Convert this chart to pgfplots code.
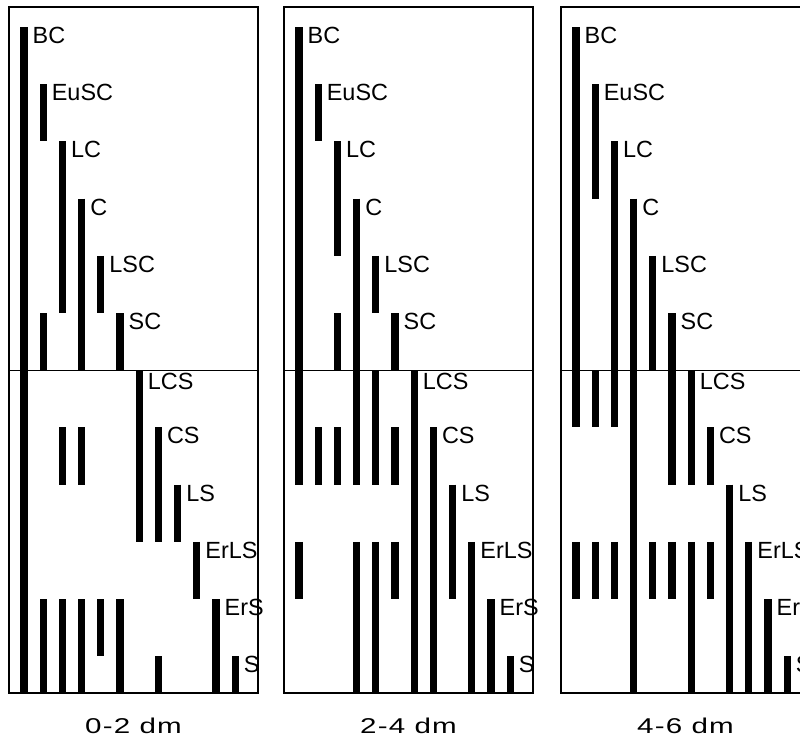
\documentclass[border=0pt]{standalone}
\usepackage{pgfplots}
\pgfplotsset{compat=1.18}
\usepackage{graphicx}
\usepackage{fontspec}
\setmainfont{Liberation Sans}
\newfontfamily\btfont[LetterSpace=4]{Liberation Sans}
\newcommand\labfont{\fontsize{23.5}{26}\selectfont}
\newcommand\botlab[1]{\scalebox{1.38}[1]{\btfont\fontsize{21.5}{24}\selectfont #1}}
\pgfplotsset{
  panel/.style={
    anchor=south west, scale only axis,
    width=249bp, height=686bp,
    xmin=0.22, xmax=13.19, ymin=0.357, ymax=12.35,
    ticks=none, clip=true, clip mode=individual,
    axis line style={line width=1.4bp},
  },
  bars/.style={black, line width=7.3bp, line cap=butt, unbounded coords=jump, mark=none},
}
\newcommand\labels{%
  \node[anchor=north west, inner sep=0, xshift=8.5bp, font=\labfont] at (axis cs:1,12) {BC};
  \node[anchor=north west, inner sep=0, xshift=8.5bp, font=\labfont] at (axis cs:2,11) {EuSC};
  \node[anchor=north west, inner sep=0, xshift=8.5bp, font=\labfont] at (axis cs:3,10) {LC};
  \node[anchor=north west, inner sep=0, xshift=8.5bp, font=\labfont] at (axis cs:4,9) {C};
  \node[anchor=north west, inner sep=0, xshift=8.5bp, font=\labfont] at (axis cs:5,8) {LSC};
  \node[anchor=north west, inner sep=0, xshift=8.5bp, font=\labfont] at (axis cs:6,7) {SC};
  \node[anchor=north west, inner sep=0, xshift=8.5bp, yshift=-3bp, font=\labfont] at (axis cs:7,6) {LCS};
  \node[anchor=north west, inner sep=0, xshift=8.5bp, font=\labfont] at (axis cs:8,5) {CS};
  \node[anchor=north west, inner sep=0, xshift=8.5bp, font=\labfont] at (axis cs:9,4) {LS};
  \node[anchor=north west, inner sep=0, xshift=8.5bp, font=\labfont] at (axis cs:10,3) {ErLS};
  \node[anchor=north west, inner sep=0, xshift=8.5bp, font=\labfont] at (axis cs:11,2) {ErS};
  \node[anchor=north west, inner sep=0, xshift=8.5bp, font=\labfont] at (axis cs:12,1) {S};
}
\begin{document}
\begin{tikzpicture}
\path[use as bounding box] (0bp,0bp) rectangle (800bp,738bp);
\clip (0bp,0bp) rectangle (800bp,738bp);
% ---------- 0-2 dm ----------
\begin{axis}[panel, at={(9bp,45bp)}]
\addplot[black, line width=1.4bp] coordinates {(0,6) (14,6)};
\addplot[bars] coordinates {
 (1,12) (1,0) (1,nan)
 (2,11) (2,10) (2,nan) (2,7) (2,6) (2,nan) (2,2) (2,0) (2,nan)
 (3,10) (3,7) (3,nan) (3,5) (3,4) (3,nan) (3,2) (3,0) (3,nan)
 (4,9) (4,6) (4,nan) (4,5) (4,4) (4,nan) (4,2) (4,0) (4,nan)
 (5,8) (5,7) (5,nan) (5,2) (5,1) (5,nan)
 (6,7) (6,6) (6,nan) (6,2) (6,0) (6,nan)
 (7,6) (7,3) (7,nan)
 (8,5) (8,3) (8,nan) (8,1) (8,0) (8,nan)
 (9,4) (9,3) (9,nan)
 (10,3) (10,2) (10,nan)
 (11,2) (11,0) (11,nan)
 (12,1) (12,0)
};
\labels
\node[anchor=base, inner sep=0] at (axis description cs:0.5,0) [yshift=-40bp] {\botlab{0-2 dm}};
\end{axis}
% ---------- 2-4 dm ----------
\begin{axis}[panel, at={(284bp,45bp)}]
\addplot[black, line width=1.4bp] coordinates {(0,6) (14,6)};
\addplot[bars] coordinates {
 (1,12) (1,4) (1,nan) (1,3) (1,2) (1,nan)
 (2,11) (2,10) (2,nan) (2,5) (2,4) (2,nan)
 (3,10) (3,8) (3,nan) (3,7) (3,6) (3,nan) (3,5) (3,4) (3,nan)
 (4,9) (4,4) (4,nan) (4,3) (4,0) (4,nan)
 (5,8) (5,7) (5,nan) (5,6) (5,4) (5,nan) (5,3) (5,0) (5,nan)
 (6,7) (6,6) (6,nan) (6,5) (6,4) (6,nan) (6,3) (6,2) (6,nan)
 (7,6) (7,0) (7,nan)
 (8,5) (8,0) (8,nan)
 (9,4) (9,2) (9,nan)
 (10,3) (10,0) (10,nan)
 (11,2) (11,0) (11,nan)
 (12,1) (12,0)
};
\labels
\node[anchor=base, inner sep=0] at (axis description cs:0.5,0) [yshift=-40bp] {\botlab{2-4 dm}};
\end{axis}
% ---------- 4-6 dm ----------
\begin{axis}[panel, at={(561bp,45bp)}]
\addplot[black, line width=1.4bp] coordinates {(0,6) (14,6)};
\addplot[bars] coordinates {
 (1,12) (1,5) (1,nan) (1,3) (1,2) (1,nan)
 (2,11) (2,9) (2,nan) (2,6) (2,5) (2,nan) (2,3) (2,2) (2,nan)
 (3,10) (3,5) (3,nan) (3,3) (3,2) (3,nan)
 (4,9) (4,0) (4,nan)
 (5,8) (5,6) (5,nan) (5,3) (5,2) (5,nan)
 (6,7) (6,4) (6,nan) (6,3) (6,2) (6,nan)
 (7,6) (7,4) (7,nan) (7,3) (7,0) (7,nan)
 (8,5) (8,4) (8,nan) (8,3) (8,2) (8,nan)
 (9,4) (9,0) (9,nan)
 (10,3) (10,0) (10,nan)
 (11,2) (11,0) (11,nan)
 (12,1) (12,0)
};
\labels
\node[anchor=base, inner sep=0] at (axis description cs:0.5,0) [yshift=-40bp] {\botlab{4-6 dm}};
\end{axis}
\end{tikzpicture}
\end{document}
